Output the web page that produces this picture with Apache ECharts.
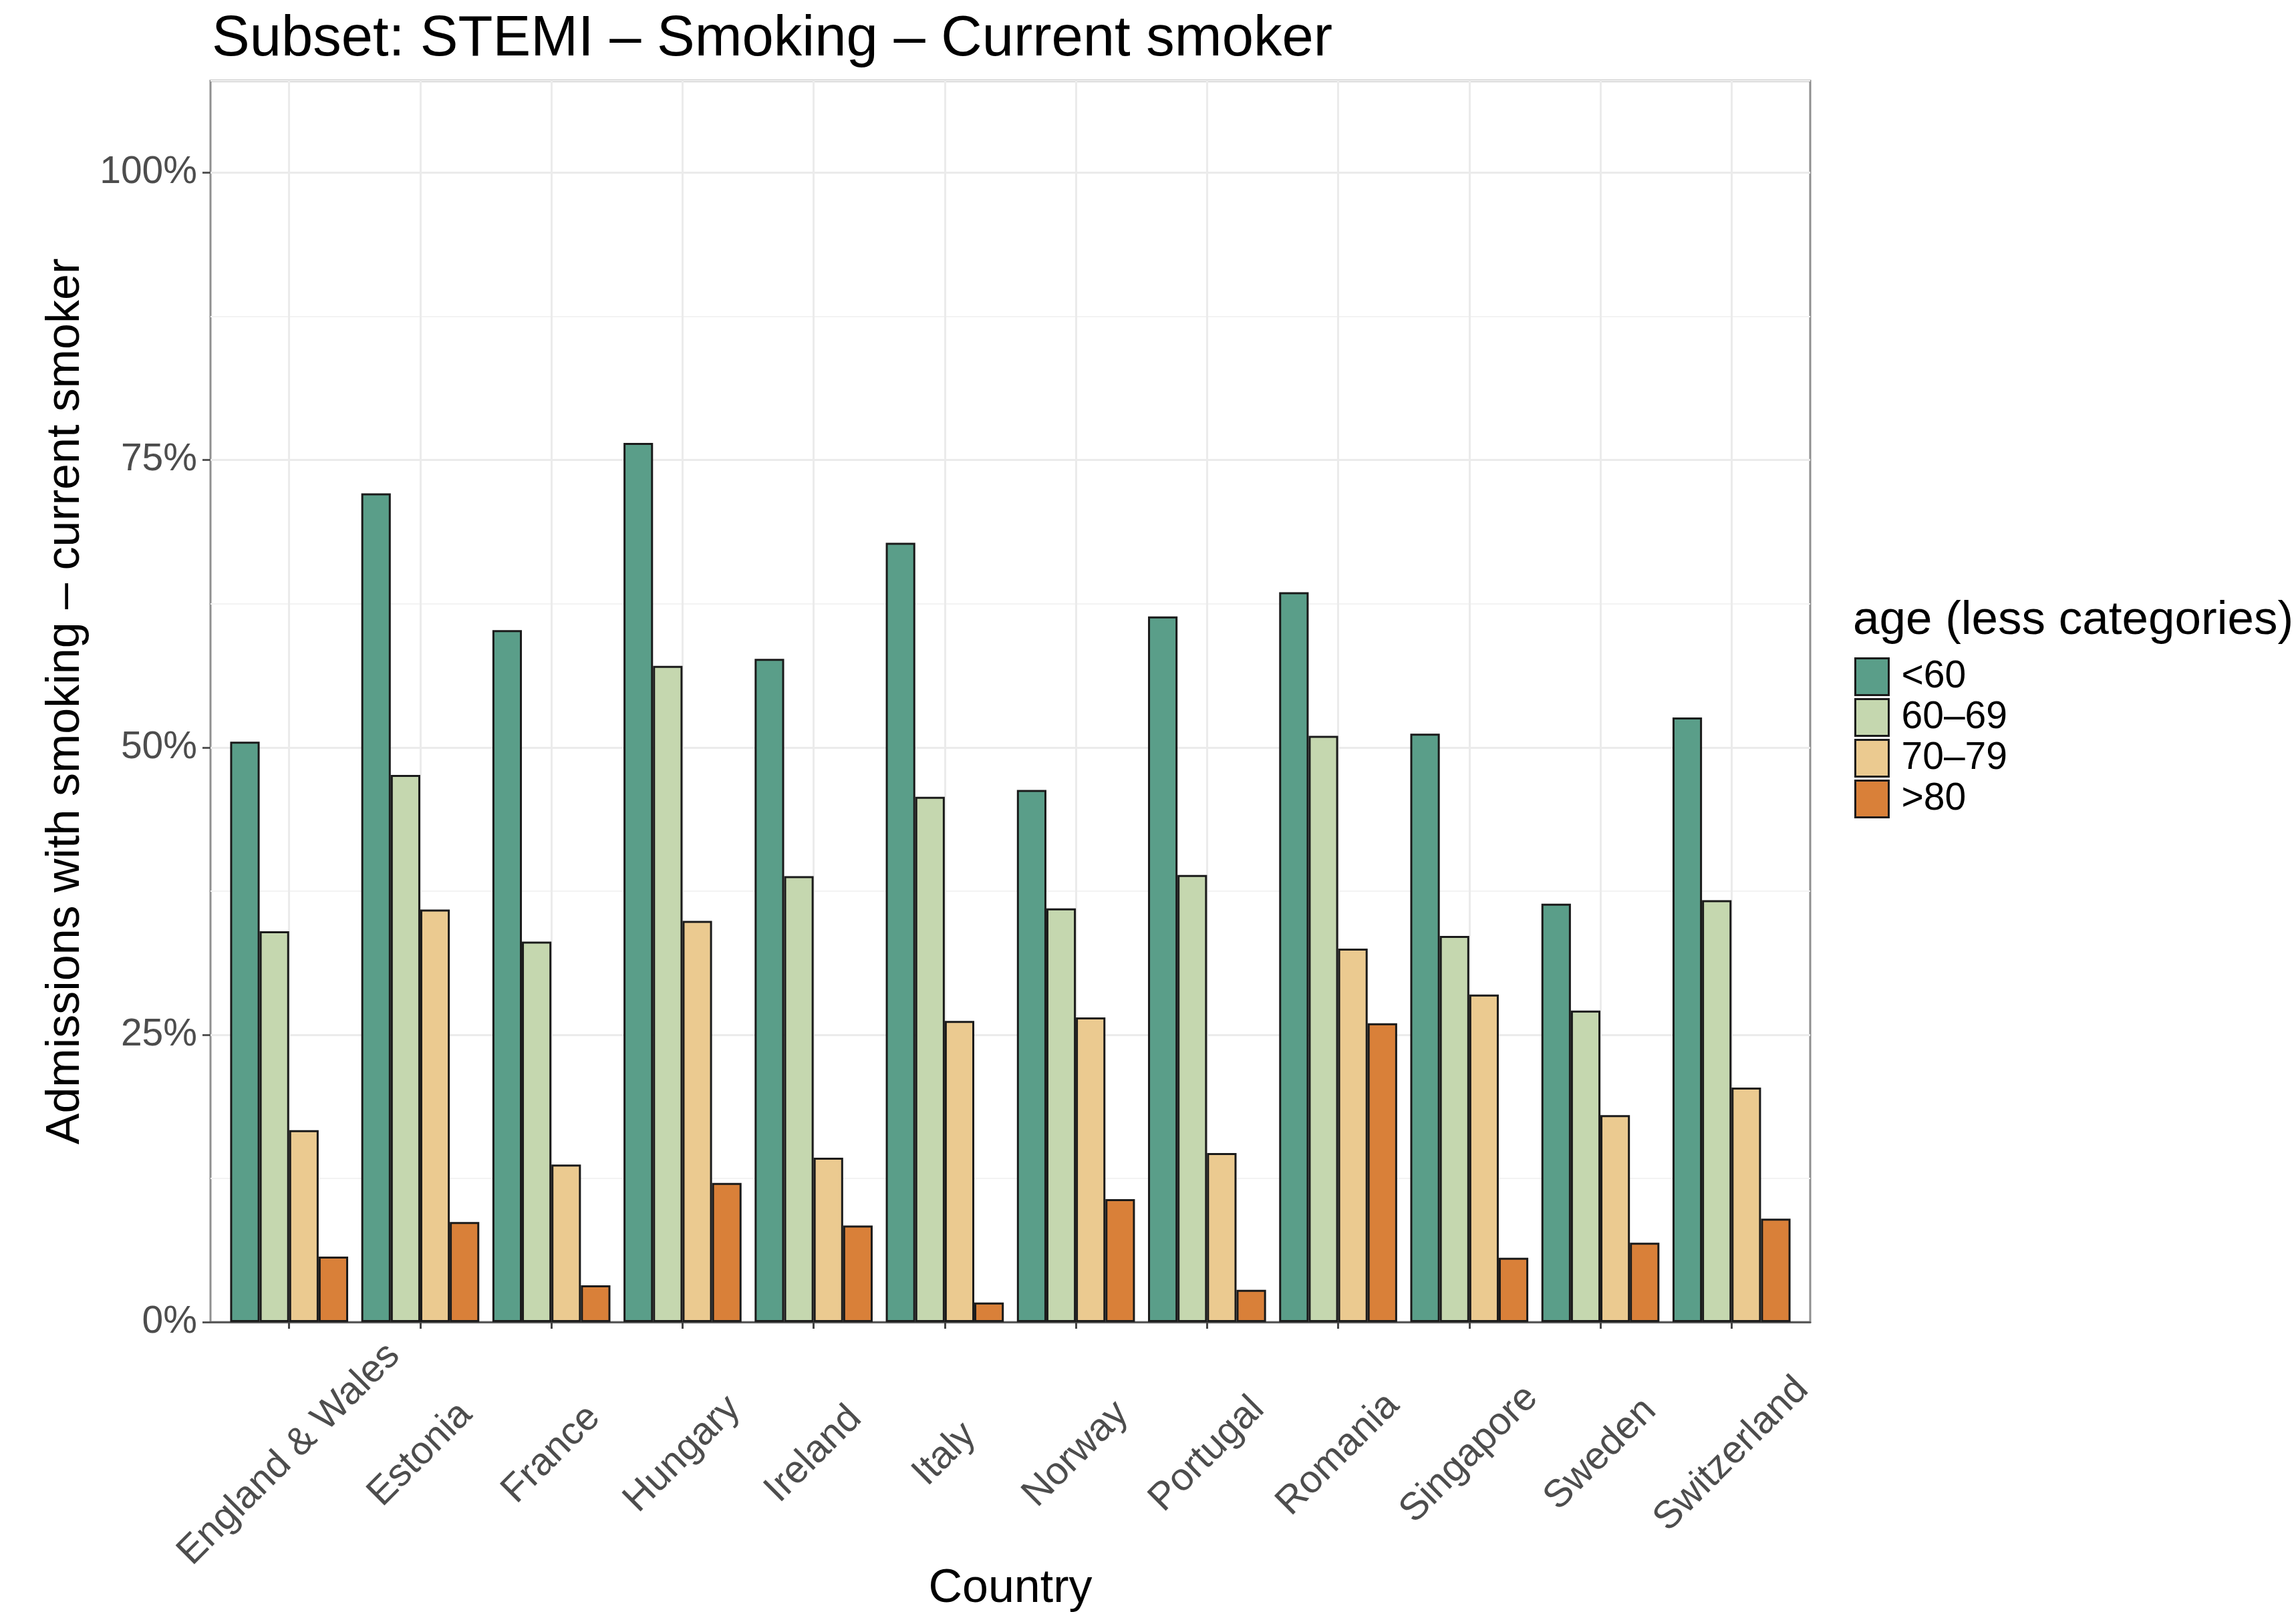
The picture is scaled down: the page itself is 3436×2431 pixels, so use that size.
<!DOCTYPE html>
<html>
<head>
<meta charset="utf-8">
<script src="https://cdn.jsdelivr.net/npm/echarts/dist/echarts.min.js"></script>
<style>
  html, body { margin: 0; padding: 0; background: #ffffff; }
  #chart { width: 3436px; height: 2431px; }
</style>
</head>
<body>
<div id="chart"></div>
<script>
// ---- data ----
const countries = ['England & Wales', 'Estonia', 'France', 'Hungary', 'Ireland', 'Italy',
                   'Norway', 'Portugal', 'Romania', 'Singapore', 'Sweden', 'Switzerland'];
const ageGroups = ['<60', '60–69', '70–79', '>80'];
const under60  = [50.5, 72.1, 60.2, 76.5, 57.7, 67.8, 46.3, 61.4, 63.5, 51.2, 36.4, 52.6];
const age60to69 = [34.0, 47.6, 33.1, 57.1, 38.8, 45.7, 36.0, 38.9, 51.0, 33.6, 27.1, 36.7];
const age70to79 = [16.7, 35.9, 13.7, 34.9, 14.3, 26.2, 26.5, 14.7, 32.5, 28.5, 18.0, 20.4];
const over80   = [5.7, 8.7, 3.2, 12.1, 8.4, 1.7, 10.7, 2.8, 26.0, 5.6, 6.9, 9.0];
const yTickValues = [0, 25, 50, 75, 100];

const seriesValues = [under60, age60to69, age70to79, over80];
const colors = ['#5a9e89', '#c5d7af', '#ebca90', '#d98039'];
const FONT = 'Liberation Sans, Arial, Helvetica, sans-serif';

// panel geometry (ggplot discrete axis adds 0.6 category units on each side)
const PANEL_L = 315, PANEL_R = 2709, PANEL_T = 121, PANEL_B = 1979;
const unit = (PANEL_R - PANEL_L) / (countries.length + 0.2);
const innerPad = 0.1 * unit;

const chart = echarts.init(document.getElementById('chart'), null, { renderer: 'canvas' });

const option = {
  backgroundColor: '#ffffff',
  animation: false,
  textStyle: { fontFamily: FONT },
  title: [
    {
      text: 'Subset: STEMI – Smoking – Current smoker',
      left: 312, top: 12,
      textStyle: { fontFamily: FONT, fontSize: 85, fontWeight: 'normal', color: '#000000' }
    },
    {
      text: 'age (less categories)',
      left: 2768, top: 889,
      textStyle: { fontFamily: FONT, fontSize: 71, fontWeight: 'normal', color: '#000000' }
    }
  ],
  legend: {
    orient: 'vertical',
    left: 2770, top: 979,
    icon: 'rect',
    itemWidth: 50, itemHeight: 55, itemGap: 3,
    data: ageGroups,
    itemStyle: { borderColor: '#1a1a1a', borderWidth: 3 },
    textStyle: { fontFamily: FONT, fontSize: 57, color: '#000000', padding: [0, 0, 0, 14] }
  },
  grid: [
    {
      left: PANEL_L, right: 3436 - PANEL_R, top: PANEL_T, bottom: 2431 - PANEL_B,
      show: true, borderColor: '#8f8f8f', borderWidth: 3,
      backgroundColor: 'transparent',
      containLabel: false,
      outerBoundsMode: 'none'
    },
    {
      left: PANEL_L + innerPad, right: 3436 - PANEL_R + innerPad, top: PANEL_T, bottom: 2431 - PANEL_B,
      show: false,
      containLabel: false,
      outerBoundsMode: 'none'
    }
  ],
  xAxis: [
    {
      gridIndex: 0,
      type: 'value',
      min: 0, max: 1,
      axisLine: { show: true, lineStyle: { color: '#5a5a5a', width: 3 } },
      axisTick: { show: false },
      axisLabel: { show: false },
      splitLine: { show: false }
    },
    {
      gridIndex: 1,
      type: 'category',
      data: countries,
      boundaryGap: true,
      name: 'Country',
      nameLocation: 'middle',
      nameGap: 365,
      nameMoveOverlap: false,
      nameTextStyle: { fontFamily: FONT, fontSize: 70, color: '#000000' },
      axisLine: { show: false },
      axisTick: { show: true, alignWithLabel: true, length: 10, lineStyle: { color: '#444444', width: 3 } },
      axisLabel: {
        show: true, interval: 0, rotate: 45, margin: 198,
        align: 'center', verticalAlign: 'middle',
        fontFamily: FONT, fontSize: 58, color: '#4d4d4d'
      },
      splitLine: { show: true, alignWithLabel: true, lineStyle: { color: '#ebebeb', width: 3 } }
    }
  ],
  yAxis: [
    {
      gridIndex: 0,
      type: 'value',
      min: 0, max: 108, interval: 25,
      name: 'Admissions with smoking – current smoker',
      nameLocation: 'middle',
      nameGap: 181,
      nameMoveOverlap: false,
      nameTextStyle: { fontFamily: FONT, fontSize: 70, color: '#000000' },
      axisLine: { show: false },
      axisTick: { show: true, length: 12, customValues: yTickValues, lineStyle: { color: '#555555', width: 3 } },
      axisLabel: {
        show: true, margin: 20, customValues: yTickValues,
        formatter: function (v) { return v <= 100 ? v + '%' : ''; },
        fontFamily: FONT, fontSize: 57, color: '#4d4d4d'
      },
      splitLine: { show: true, lineStyle: { color: '#ebebeb', width: 3 } }
    },
    {
      gridIndex: 0,
      type: 'value',
      min: 0, max: 108, interval: 12.5,
      position: 'left',
      axisLine: { show: false },
      axisTick: { show: false },
      axisLabel: { show: false },
      splitLine: { show: true, lineStyle: { color: ['rgba(0,0,0,0)', '#f3f3f3'], width: 2 } }
    },
    {
      gridIndex: 1,
      type: 'value',
      min: 0, max: 108, interval: 25,
      axisLine: { show: false },
      axisTick: { show: false },
      axisLabel: { show: false },
      splitLine: { show: false }
    }
  ],
  series: ageGroups.map(function (name, i) {
    return {
      name: name,
      type: 'bar',
      xAxisIndex: 1,
      yAxisIndex: 2,
      data: seriesValues[i],
      barGap: '0%',
      barCategoryGap: '10%',
      itemStyle: { color: colors[i], borderColor: '#1a1a1a', borderWidth: 3 },
      emphasis: { disabled: true }
    };
  })
};

chart.setOption(option);
</script>
</body>
</html>
